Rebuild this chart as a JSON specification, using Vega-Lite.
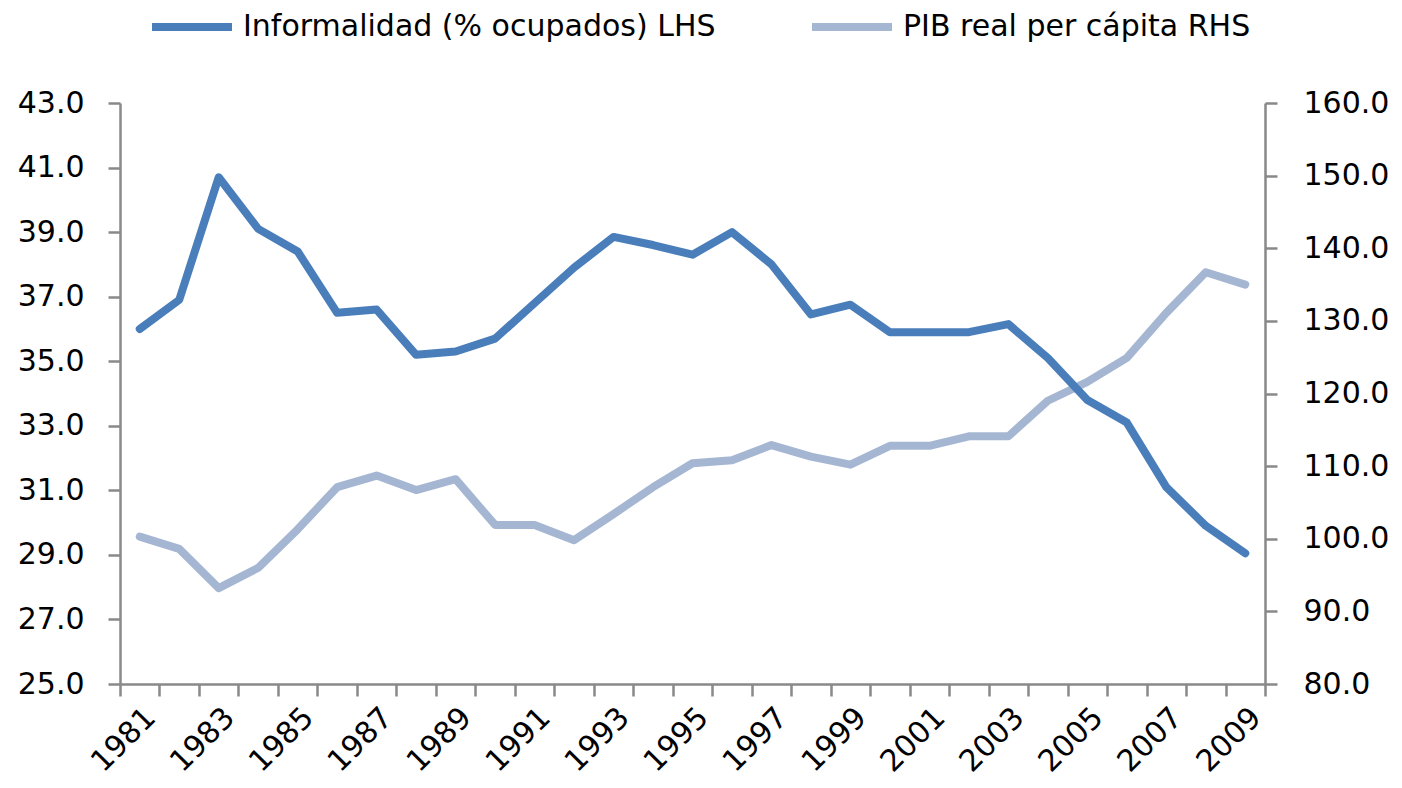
{
  "$schema": "https://vega.github.io/schema/vega-lite/v6.json",
  "width": 1145,
  "height": 581,
  "autosize": {"type": "none"},
  "padding": {"left": 120, "top": 103, "right": 137, "bottom": 104},
  "background": "white",
  "config": {
    "view": {"stroke": null},
    "font": "DejaVu Sans",
    "axis": {"grid": false, "domainColor": "#898989", "domainWidth": 2.5, "tickColor": "#898989", "tickWidth": 2.5, "tickSize": 12, "labelColor": "#000000", "labelFont": "DejaVu Sans", "labelFontSize": 30, "title": null}
  },
  "data": {"values": [
    {"year": 1981, "inf": 36.0, "pib": 100.3},
    {"year": 1982, "inf": 36.9, "pib": 98.6},
    {"year": 1983, "inf": 40.7, "pib": 93.2},
    {"year": 1984, "inf": 39.1, "pib": 96.0},
    {"year": 1985, "inf": 38.4, "pib": 101.3},
    {"year": 1986, "inf": 36.5, "pib": 107.1},
    {"year": 1987, "inf": 36.6, "pib": 108.7},
    {"year": 1988, "inf": 35.2, "pib": 106.7},
    {"year": 1989, "inf": 35.3, "pib": 108.2},
    {"year": 1990, "inf": 35.7, "pib": 101.9},
    {"year": 1991, "inf": 36.8, "pib": 101.9},
    {"year": 1992, "inf": 37.9, "pib": 99.8},
    {"year": 1993, "inf": 38.85, "pib": 103.4},
    {"year": 1994, "inf": 38.6, "pib": 107.1},
    {"year": 1995, "inf": 38.3, "pib": 110.4},
    {"year": 1996, "inf": 39.0, "pib": 110.8},
    {"year": 1997, "inf": 38.0, "pib": 112.9},
    {"year": 1998, "inf": 36.45, "pib": 111.3},
    {"year": 1999, "inf": 36.75, "pib": 110.2},
    {"year": 2000, "inf": 35.9, "pib": 112.8},
    {"year": 2001, "inf": 35.9, "pib": 112.8},
    {"year": 2002, "inf": 35.9, "pib": 114.1},
    {"year": 2003, "inf": 36.15, "pib": 114.1},
    {"year": 2004, "inf": 35.1, "pib": 119.0},
    {"year": 2005, "inf": 33.8, "pib": 121.6},
    {"year": 2006, "inf": 33.1, "pib": 124.9},
    {"year": 2007, "inf": 31.1, "pib": 131.1},
    {"year": 2008, "inf": 29.9, "pib": 136.7},
    {"year": 2009, "inf": 29.05, "pib": 135.0}
  ]},
  "encoding": {
    "x": {"field": "year", "type": "ordinal", "scale": {"type": "band", "paddingInner": 0, "paddingOuter": 0},
      "axis": {"tickBand": "extent", "labelAngle": -45, "labelAlign": "right", "labelBaseline": "top", "labelPadding": 6, "labelExpr": "datum.value % 2 == 1 ? datum.label : ''", "labelOverlap": false}}
  },
  "layer": [
    {
      "mark": {"type": "line", "strokeWidth": 8, "strokeCap": "round", "strokeJoin": "round"},
      "encoding": {
        "y": {"field": "pib", "type": "quantitative", "scale": {"domain": [80, 160], "nice": false, "zero": false},
          "axis": {"orient": "right", "values": [80, 90, 100, 110, 120, 130, 140, 150, 160], "format": ".1f", "labelPadding": 26}},
        "color": {"datum": "PIB real per cápita RHS"}
      }
    },
    {
      "mark": {"type": "line", "strokeWidth": 8, "strokeCap": "round", "strokeJoin": "round"},
      "encoding": {
        "y": {"field": "inf", "type": "quantitative", "scale": {"domain": [25, 43], "nice": false, "zero": false},
          "axis": {"orient": "left", "values": [25, 27, 29, 31, 33, 35, 37, 39, 41, 43], "format": ".1f", "labelPadding": 24}},
        "color": {"datum": "Informalidad (% ocupados) LHS",
          "scale": {"domain": ["Informalidad (% ocupados) LHS", "PIB real per cápita RHS"], "range": ["#4A7EBB", "#A5B6D3"]},
          "legend": {"title": null, "orient": "none", "direction": "horizontal", "legendX": 28, "legendY": -120, "symbolType": "stroke", "symbolSize": 6400, "symbolStrokeWidth": 8, "labelFontSize": 30, "labelFont": "DejaVu Sans", "labelColor": "#000000", "labelLimit": 700, "columnPadding": 80, "labelOffset": 7}}
      }
    }
  ],
  "resolve": {"scale": {"y": "independent"}}
}
